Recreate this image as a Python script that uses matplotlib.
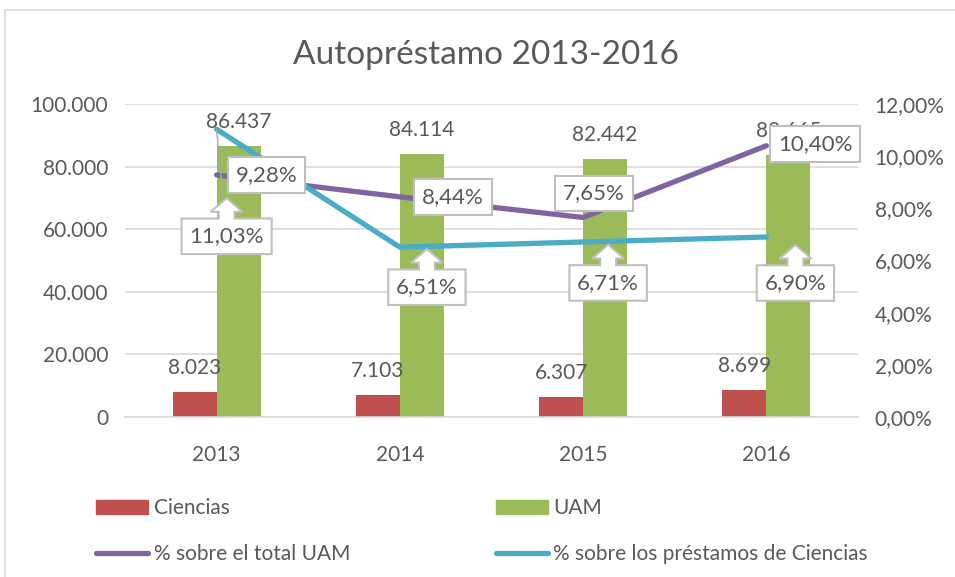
import matplotlib
matplotlib.use("Agg")
import matplotlib.pyplot as plt
import numpy as np
from matplotlib.path import Path
from matplotlib.patches import Rectangle
from matplotlib.lines import Line2D
from matplotlib.ticker import FuncFormatter

years = ['2013', '2014', '2015', '2016']
ciencias = [8023, 7103, 6307, 8699]
uam = [86437, 84114, 82442, 83665]
pct_total_uam = [9.28, 8.44, 7.65, 10.40]
pct_prest_ciencias = [11.03, 6.51, 6.71, 6.90]

RED = '#C0504D'
GREEN = '#9BBB59'
PURPLE = '#8064A2'
CYAN = '#4BACC6'
TXT = '#595959'
GRID = '#D9D9D9'
FONT = ['Lato', 'DejaVu Sans']
FS = 15

plt.rcParams['font.family'] = FONT


def thousands(v):
    return f"{int(round(v)):,}".replace(',', '.')


def pct(v):
    return f"{v:.2f}%".replace('.', ',')


def up_arrow_box(pad=0.35):
    # box with an arrow on top, like excel's up-arrow callout
    def style(x0, y0, width, height, mutation_size):
        p = pad * mutation_size
        x0, y0 = x0 - p, y0 - p
        x1, y1 = x0 + width + 2 * p, y0 + height + 2 * p
        cx = (x0 + x1) / 2
        sw = 0.36 * mutation_size
        hw = 0.72 * mutation_size
        sh = 0.3 * mutation_size
        hh = 0.62 * mutation_size
        verts = [(x0, y0), (x1, y0), (x1, y1),
                 (cx + sw, y1), (cx + sw, y1 + sh), (cx + hw, y1 + sh),
                 (cx, y1 + sh + hh),
                 (cx - hw, y1 + sh), (cx - sw, y1 + sh), (cx - sw, y1),
                 (x0, y1), (x0, y0)]
        codes = [Path.MOVETO] + [Path.LINETO] * (len(verts) - 2) + [Path.CLOSEPOLY]
        return Path(verts, codes)
    return style


fig = plt.figure(figsize=(9.55, 5.77), dpi=100)
fig.patches.append(Rectangle((5 / 955, -0.05), 1.1, 1 - 10 / 577 + 0.05,
                             transform=fig.transFigure, fill=False,
                             edgecolor=GRID, lw=1.2))

ax = fig.add_axes([125 / 955, 1 - 417 / 577, 733 / 955, 313 / 577])
ax2 = ax.twinx()

x = np.arange(len(years))
w = 0.24
b1 = ax.bar(x - 0.12, ciencias, w, color=RED, zorder=2)
b2 = ax.bar(x + 0.12, uam, w, color=GREEN, zorder=2)

for rect, v in zip(b1, ciencias):
    ax.annotate(thousands(v), (rect.get_x() + rect.get_width() / 2, v),
                xytext=(0, 14), textcoords='offset pixels', ha='center',
                va='bottom', fontsize=FS, color=TXT)
for rect, v in zip(b2, uam):
    ax.annotate(thousands(v), (rect.get_x() + rect.get_width() / 2, v),
                xytext=(0, 14), textcoords='offset pixels', ha='center',
                va='bottom', fontsize=FS, color=TXT)

ax.set_xlim(-0.5, 3.5)
ax.set_ylim(0, 100000)
ax.set_yticks(np.arange(0, 100001, 20000))
ax.yaxis.set_major_formatter(FuncFormatter(lambda v, p: thousands(v)))
ax.set_xticks(x)
ax.set_xticklabels(years)
ax.grid(axis='y', color=GRID, lw=1.2, zorder=0)
ax.set_axisbelow(True)
for s in ['top', 'left', 'right']:
    ax.spines[s].set_visible(False)
ax.spines['bottom'].set_color(GRID)
ax.spines['bottom'].set_linewidth(1.2)
ax.tick_params(axis='both', length=0, labelsize=FS, labelcolor=TXT)
ax.tick_params(axis='x', pad=20)
ax.tick_params(axis='y', pad=12)

ax2.plot(x, pct_total_uam, color=PURPLE, lw=3.8, solid_capstyle='round', zorder=3)
ax2.plot(x, pct_prest_ciencias, color=CYAN, lw=3.8, solid_capstyle='round', zorder=3)
ax2.set_ylim(0, 12)
ax2.set_yticks(np.arange(0, 12.01, 2))
ax2.yaxis.set_major_formatter(FuncFormatter(lambda v, p: pct(v)))
ax2.tick_params(axis='y', length=0, labelsize=FS, labelcolor=TXT, pad=12)
for s in ax2.spines.values():
    s.set_visible(False)

box = dict(boxstyle='square,pad=0.35', fc='white', ec='#BFBFBF', lw=1.5)
purple_off = [(50, 0), (53, 0), (11, 24), (49, 2)]
for xi, v, off in zip(x, pct_total_uam, purple_off):
    ax2.annotate(pct(v), (xi, v), xytext=off, textcoords='offset pixels',
                 ha='center', va='center', fontsize=FS + 1, color=TXT,
                 bbox=box, zorder=5)

arrow_box = dict(boxstyle=up_arrow_box(), fc='white', ec='#BFBFBF', lw=1.5)
cyan_off = [(10, -107), (27, -40), (25, -41), (29, -46)]
for i, (xi, v, off) in enumerate(zip(x, pct_prest_ciencias, cyan_off)):
    ap = None
    if i == 0:
        ap = dict(arrowstyle='-', color='#A6A6A6', lw=1, shrinkA=0, shrinkB=0)
    ax2.annotate(pct(v), (xi, v), xytext=off, textcoords='offset pixels',
                 ha='center', va='center', fontsize=FS + 1, color=TXT,
                 bbox=arrow_box, arrowprops=ap, zorder=5)

fig.text(486 / 955, 1 - 55 / 577, 'Autopréstamo 2013-2016', ha='center',
         va='center', fontsize=24, color=TXT)

handles = [Rectangle((0, 0), 1, 1, color=RED),
           Line2D([], [], color=PURPLE, lw=3.8, solid_capstyle='round'),
           Rectangle((0, 0), 1, 1, color=GREEN),
           Line2D([], [], color=CYAN, lw=3.8, solid_capstyle='round')]
labels = ['Ciencias', '% sobre el total UAM', 'UAM',
          '% sobre los préstamos de Ciencias']
fig.legend(handles, labels, ncol=2, loc='upper left',
           bbox_to_anchor=(88 / 955, 1 - 490 / 577), frameon=False,
           fontsize=FS, labelcolor=TXT, handlelength=2.5, handleheight=0.7,
           handletextpad=0.25, columnspacing=7.0, labelspacing=1.25,
           borderaxespad=0)

fig.savefig('out.png', dpi=100)
